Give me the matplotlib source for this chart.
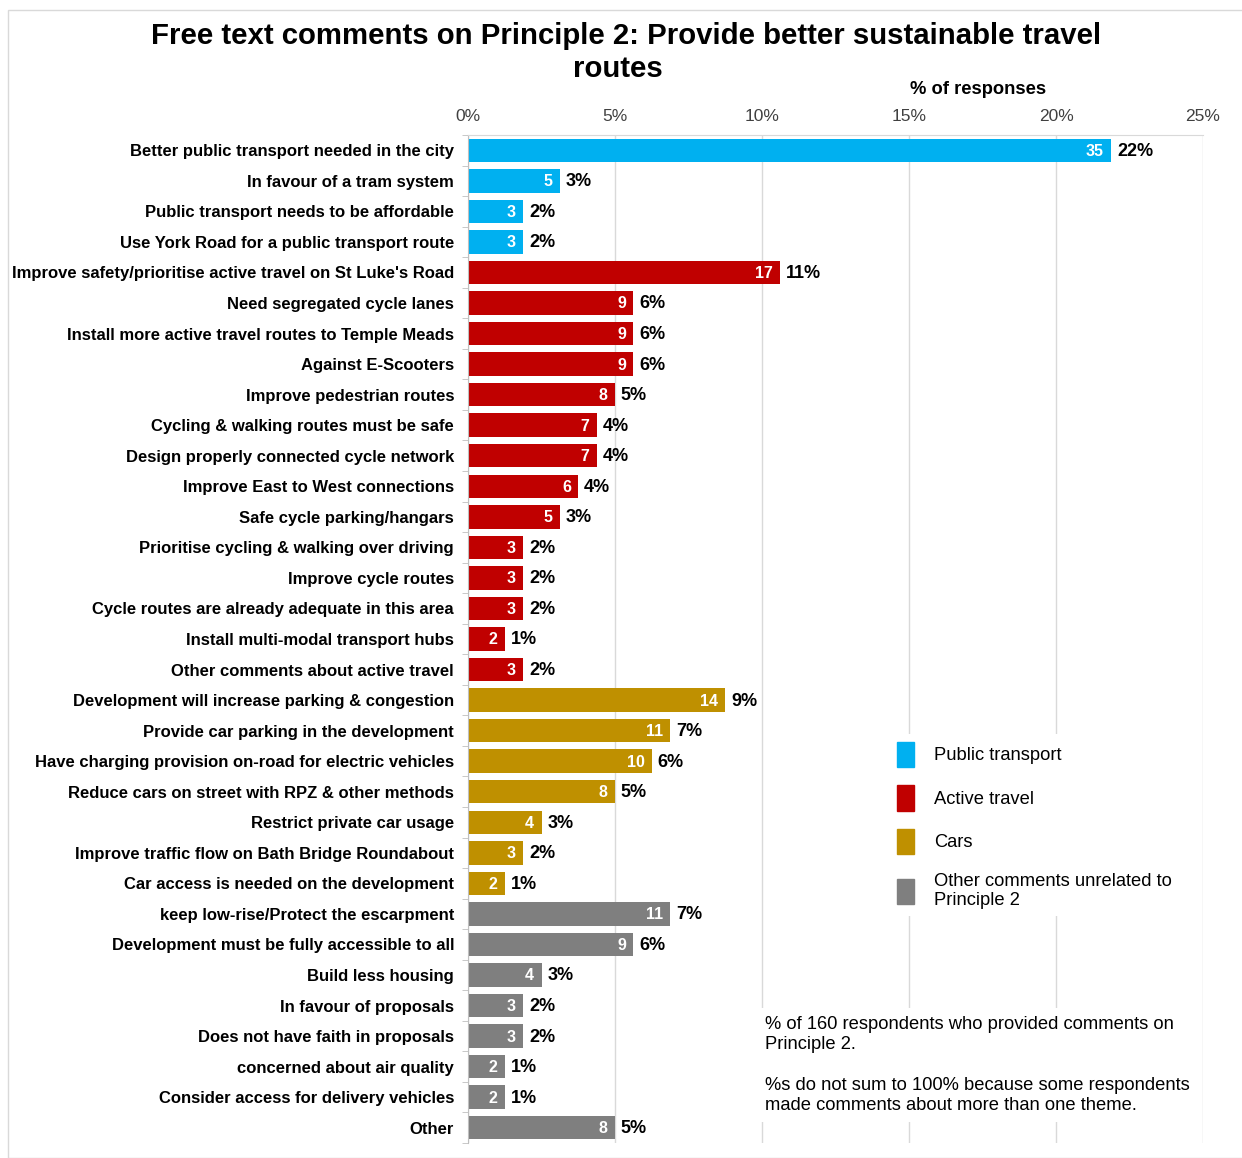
import matplotlib
matplotlib.use("Agg")
import matplotlib.pyplot as plt
import matplotlib.patches as mpatches
import numpy as np

# ── Data ──────────────────────────────────────────────────────────────────────
TOTAL_RESPONDENTS = 160

categories = [
    "Better public transport needed in the city",
    "In favour of a tram system",
    "Public transport needs to be affordable",
    "Use York Road for a public transport route",
    "Improve safety/prioritise active travel on St Luke's Road",
    "Need segregated cycle lanes",
    "Install more active travel routes to Temple Meads",
    "Against E-Scooters",
    "Improve pedestrian routes",
    "Cycling & walking routes must be safe",
    "Design properly connected cycle network",
    "Improve East to West connections",
    "Safe cycle parking/hangars",
    "Prioritise cycling & walking over driving",
    "Improve cycle routes",
    "Cycle routes are already adequate in this area",
    "Install multi-modal transport hubs",
    "Other comments about active travel",
    "Development will increase parking & congestion",
    "Provide car parking in the development",
    "Have charging provision on-road for electric vehicles",
    "Reduce cars on street with RPZ & other methods",
    "Restrict private car usage",
    "Improve traffic flow on Bath Bridge Roundabout",
    "Car access is needed on the development",
    "keep low-rise/Protect the escarpment",
    "Development must be fully accessible to all",
    "Build less housing",
    "In favour of proposals",
    "Does not have faith in proposals",
    "concerned about air quality",
    "Consider access for delivery vehicles",
    "Other",
]

counts = [35, 5, 3, 3,
          17, 9, 9, 9, 8, 7, 7, 6, 5, 3, 3, 3, 2, 3,
          14, 11, 10, 8, 4, 3, 2,
          11, 9, 4, 3, 3, 2, 2, 8]

themes = (["Public transport"] * 4 + ["Active travel"] * 14
          + ["Cars"] * 7 + ["Other comments unrelated to\nPrinciple 2"] * 8)

THEME_COLOURS = {
    "Public transport": "#00B0F0",
    "Active travel": "#C00000",
    "Cars": "#BF9000",
    "Other comments unrelated to\nPrinciple 2": "#7F7F7F",
}

x_ticks = [0, 5, 10, 15, 20, 25]

# ── Figure ────────────────────────────────────────────────────────────────────
plt.rcParams["font.family"] = ["Liberation Sans", "DejaVu Sans"]

W, H = 1242, 1158
fig = plt.figure(figsize=(W / 100, H / 100), dpi=100, facecolor="white")

# thin outer frame
fig.patches.append(mpatches.Rectangle((8 / W, 0), 1.0, 1 - 10 / H,
                                      transform=fig.transFigure, fill=False,
                                      edgecolor="#D9D9D9", linewidth=1.0))

ax = fig.add_axes([468 / W, 15 / H, 735 / W, (1143 - 135) / H])

pct = np.array(counts) / TOTAL_RESPONDENTS * 100
y = np.arange(len(categories))
colours = [THEME_COLOURS[t] for t in themes]

ax.barh(y, pct, height=0.77, color=colours, zorder=2)

for yi, p, c in zip(y, pct, counts):
    ax.text(p - 0.25, yi + 0.03, str(c), ha="right", va="center", color="white",
            fontsize=11.5, fontweight="bold", zorder=3)
    ax.text(p + 0.2, yi + 0.03, f"{int(p + 0.5)}%", ha="left", va="center",
            color="black", fontsize=13, fontweight="bold", zorder=3)

ax.set_ylim(len(categories) - 0.5, -0.5)
ax.set_xlim(0, 25)

# x axis along the top
ax.xaxis.tick_top()
ax.set_xticks(x_ticks)
ax.set_xticklabels([f"{t}%" for t in x_ticks], fontsize=12.5, color="#404040")
ax.tick_params(axis="x", length=0, pad=8)
ax.grid(axis="x", color="#D9D9D9", linewidth=1.0, zorder=0)
ax.set_axisbelow(True)

ax.set_yticks(y)
ax.set_yticklabels(categories, fontsize=12, fontweight="bold")
ax.tick_params(axis="y", length=0, pad=10)
ax.set_yticks(np.arange(-0.5, len(categories), 1), minor=True)
ax.tick_params(axis="y", which="minor", length=4, color="#BFBFBF")

for side in ["right", "bottom"]:
    ax.spines[side].set_visible(False)
ax.spines["left"].set_color("#BFBFBF")
ax.spines["top"].set_color("#D9D9D9")

# titles
fig.text(626 / W, 1 - 36 / H, "Free text comments on Principle 2: Provide better sustainable travel",
         ha="center", va="center", fontsize=21.2, fontweight="bold")
fig.text(618 / W, 1 - 69 / H, "routes",
         ha="center", va="center", fontsize=21.2, fontweight="bold")
fig.text(978 / W, 1 - 89 / H, "% of responses", ha="center", va="center",
         fontsize=13.2, fontweight="bold")

# legend
handles = [mpatches.Patch(facecolor=c, edgecolor=c, label=t)
           for t, c in THEME_COLOURS.items()]
leg = ax.legend(handles=handles, loc="upper left",
                bbox_to_anchor=((880 - 468) / 735, 1 - (725 - 135) / 1008),
                fontsize=13.2, frameon=True, facecolor="white", edgecolor="none",
                framealpha=1, handlelength=0.95, handleheight=1.75,
                labelspacing=1.0, handletextpad=1.1, borderpad=0.4)
leg.set_zorder(4)

# footnote
ax.text(10.1, 29.95,
        "% of 160 respondents who provided comments on\nPrinciple 2.\n\n"
        "%s do not sum to 100% because some respondents\nmade comments about more than one theme.",
        ha="left", va="center", fontsize=13.2, linespacing=1.25, zorder=4,
        bbox=dict(facecolor="white", edgecolor="none", pad=6))

fig.savefig("out.png", dpi=100, facecolor="white")
